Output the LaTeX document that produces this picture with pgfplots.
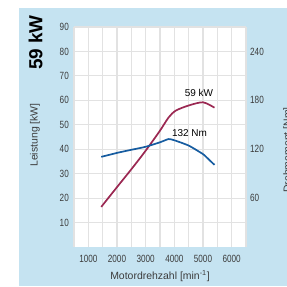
\documentclass[border=0pt]{standalone}
\usepackage{pgfplots}
\pgfplotsset{compat=1.18}
\usepackage{fontspec}
\setmainfont{Liberation Sans}
\newfontfamily\condfont[FakeStretch=0.78]{Liberation Sans}
\definecolor{bgblue}{RGB}{197,227,241}
\definecolor{pwr}{RGB}{155,40,82}
\definecolor{trq}{RGB}{22,92,160}
\definecolor{gridc}{RGB}{226,226,226}
\definecolor{txt}{RGB}{60,60,60}
\begin{document}
\begin{tikzpicture}
\clip (0,0) rectangle (287bp,287bp);
\fill[white] (0,0) rectangle (287bp,287bp);
\fill[bgblue] (19bp,1bp) rectangle (287bp,279bp);
\node[rotate=90,font=\bfseries\fontsize{19}{20}\selectfont,inner sep=0pt] at (35.5bp,244.5bp) {59 kW};
\node[rotate=90,font=\fontsize{10.5}{12}\selectfont,text=txt,inner sep=0pt] at (35bp,152bp) {Leistung [kW]};
\node[anchor=base,font=\fontsize{10.5}{12}\selectfont,text=txt,inner sep=0pt] at (160bp,8bp) {Motordrehzahl [min\textsuperscript{-1}]};
\node[rotate=90,anchor=north,font=\fontsize{10.5}{12}\selectfont,text=txt,inner sep=0pt] at (283bp,137bp) {Drehmoment [Nm]};
\begin{axis}[
  scale only axis, width=172bp, height=220bp,
  at={(74bp,40bp)}, anchor=south west,
  xmin=500, xmax=6500, ymin=0, ymax=90,
  axis background/.style={fill=white},
  xtick={1000,2000,...,6000},
  minor xtick={500,1500,...,6500},
  ytick={10,20,...,90},
  grid=both,
  major grid style={gridc,line width=1.1bp},
  minor grid style={gridc,line width=1.1bp},
  axis line style={draw=none},
  major tick length=0pt, minor tick length=0pt,
  /pgf/number format/1000 sep={},
  /pgf/number format/assume math mode=true,
  ticklabel style={font=\condfont\fontsize{10.5}{12}\selectfont,text=txt,inner sep=0pt},
  yticklabel style={anchor=east,xshift=-5bp},
  xticklabel style={anchor=base,yshift=-15bp},
]
\addplot[pwr,line width=1.7bp,smooth,tension=0.45] coordinates {
(1450,16.4) (2000,24.5) (2500,31.8) (3000,39.4) (3500,47.6) (3800,53.0) (4050,55.8) (4500,57.9) (5000,59.2) (5400,57.0)};
\node[font=\fontsize{10}{12}\selectfont,inner sep=0pt] at (axis cs:4860,63.0) {59 kW};
\node[font=\fontsize{10}{12}\selectfont,inner sep=0pt] at (axis cs:4530,46.6) {132 Nm};
\end{axis}
\begin{axis}[
  scale only axis, width=172bp, height=220bp,
  at={(74bp,40bp)}, anchor=south west,
  xmin=500, xmax=6500, ymin=0, ymax=270,
  axis x line=none,
  axis y line*=right,
  axis line style={draw=none},
  ytick={60,120,180,240},
  major tick length=0pt,
  /pgf/number format/assume math mode=true,
  yticklabel style={font=\condfont\fontsize{10.5}{12}\selectfont,text=txt,inner sep=0pt,anchor=west,xshift=4bp},
]
\addplot[trq,line width=1.7bp,smooth,tension=0.3] coordinates {
(1450,110.6) (2000,115.5) (2500,119.3) (3000,123.0) (3500,128.5) (3800,132.5) (4000,131.0) (4500,124.5) (5000,114.0) (5200,107.5) (5400,100.8)};
\end{axis}
\end{tikzpicture}
\end{document}
